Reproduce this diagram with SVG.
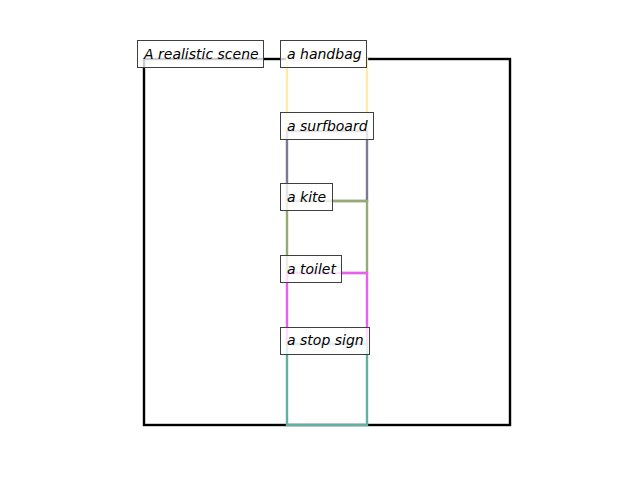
<svg xmlns="http://www.w3.org/2000/svg" width="640" height="480" viewBox="0 0 640 480">
<style>
.box{fill:none;stroke-width:2.4}
.lbl rect{fill:#ffffff;fill-opacity:0.8;stroke:#3f3f3f;stroke-width:1}
.lbl text{font-family:"DejaVu Sans",sans-serif;font-style:oblique;font-size:14px;fill:#000}
</style>
<rect width="640" height="480" fill="#ffffff"/>
<g id="connectors">
<rect id="scene-box" class="box" x="144" y="59" width="366" height="366" stroke="#000000"/>
<rect id="handbag-box" class="box" x="287" y="59" width="80" height="72" stroke="#ffeaa8"/>
<rect id="surfboard-box" class="box" x="287" y="131" width="80" height="70" stroke="#7c7898"/>
<rect id="kite-box" class="box" x="287" y="201" width="80" height="72" stroke="#94ac74"/>
<rect id="toilet-box" class="box" x="287" y="273" width="80" height="71" stroke="#e860f0"/>
<rect id="stopsign-box" class="box" x="287" y="344" width="80" height="81" stroke="#62b0a4"/>
</g>
<g id="node-scene" class="lbl"><rect x="137.5" y="40.5" width="126" height="27"/><text x="144" y="59">A realistic scene</text></g>
<g id="node-handbag" class="lbl"><rect x="280.5" y="40.5" width="86" height="27"/><text x="287" y="59">a handbag</text></g>
<g id="node-surfboard" class="lbl"><rect x="280.5" y="112.5" width="93" height="27"/><text x="287" y="131">a surfboard</text></g>
<g id="node-kite" class="lbl"><rect x="280.5" y="183.5" width="52" height="27"/><text x="287" y="202">a kite</text></g>
<g id="node-toilet" class="lbl"><rect x="280.5" y="255.5" width="61" height="27"/><text x="287" y="274">a toilet</text></g>
<g id="node-stopsign" class="lbl"><rect x="280.5" y="327.5" width="89" height="27"/><text x="287" y="345">a stop sign</text></g>
</svg>
